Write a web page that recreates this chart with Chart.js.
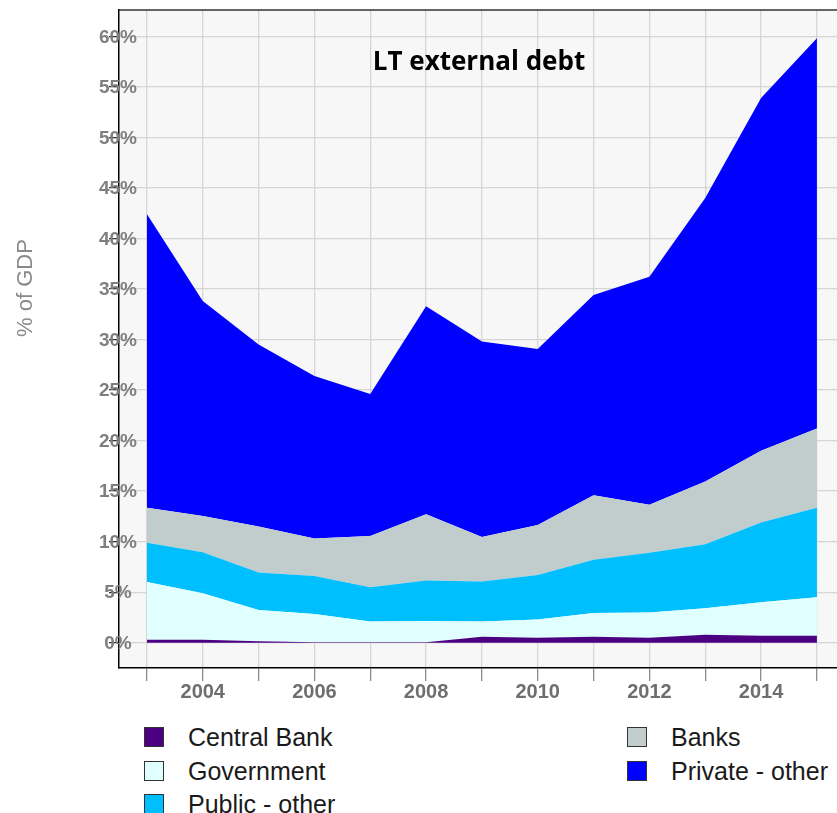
<!DOCTYPE html>
<html>
<head>
<meta charset="utf-8">
<script src="https://cdn.jsdelivr.net/npm/chart.js@4.4.1/dist/chart.umd.min.js"></script>
<style>
  body { margin: 0; background: #fff; width: 837px; height: 813px; position: relative; overflow: hidden; }
  #wrap { position: absolute; left: 0; top: 0; width: 837px; height: 715px; }
  .legend { position: absolute; font-family: "Liberation Sans", Arial, sans-serif; font-size: 25px; color: #1a1a1a; }
  .item { position: absolute; white-space: nowrap; height: 30px; line-height: 30px; }
  .box { position: absolute; left: 0; top: 5px; width: 18px; height: 18px; border: 1px solid #333; }
  .lbl { position: absolute; left: 44px; top: 0; }
</style>
</head>
<body>
<div id="wrap"><canvas id="chart" width="837" height="715"></canvas></div>
<div id="legend"></div>
<script>
const years = [2003, 2004, 2005, 2006, 2007, 2008, 2009, 2010, 2011, 2012, 2013, 2014, 2015];
const centralBank = [0.3, 0.3, 0.15, 0.05, 0.05, 0.05, 0.6, 0.5, 0.6, 0.5, 0.8, 0.7, 0.7];
const government = [5.7, 4.6, 3.1, 2.8, 2.05, 2.1, 1.5, 1.8, 2.35, 2.5, 2.6, 3.3, 3.8];
const publicOther = [3.9, 4.05, 3.7, 3.75, 3.4, 4.0, 3.95, 4.4, 5.25, 5.9, 6.35, 7.9, 8.85];
const banks = [3.45, 3.6, 4.55, 3.7, 5.05, 6.55, 4.4, 4.95, 6.4, 4.75, 6.2, 7.1, 7.85];
const privateOther = [29.05, 21.25, 18.0, 16.1, 14.05, 20.6, 19.35, 17.4, 19.8, 22.55, 28.05, 34.9, 38.6];
const yTicks = [0, 5, 10, 15, 20, 25, 30, 35, 40, 45, 50, 55, 60];

const series = [
  { label: "Central Bank", values: centralBank, color: "#4B0082" },
  { label: "Government", values: government, color: "#E0FFFF" },
  { label: "Public - other", values: publicOther, color: "#00BFFF" },
  { label: "Banks", values: banks, color: "#C1CDCD" },
  { label: "Private - other", values: privateOther, color: "#0000FF" },
];

const gridColor = "rgba(208,208,208,0.85)";

// panel background, top border, y tick labels (centred on the axis line) and titles
const decor = {
  id: "decor",
  beforeDraw(chart) {
    const { ctx, chartArea: a } = chart;
    ctx.save();
    ctx.fillStyle = "#f7f7f7";
    ctx.fillRect(a.left, a.top, a.right - a.left, a.bottom - a.top);
    ctx.restore();
  },
  afterDraw(chart) {
    const { ctx, chartArea: a } = chart;
    const y = chart.scales.y;
    ctx.save();
    ctx.strokeStyle = "#333";
    ctx.lineWidth = 1.3;
    ctx.beginPath();
    ctx.moveTo(a.left, a.top);
    ctx.lineTo(a.right, a.top);
    ctx.stroke();

    ctx.fillStyle = "#7f7f7f";
    ctx.font = "bold 19px 'Liberation Sans', Arial, sans-serif";
    ctx.textAlign = "center";
    ctx.textBaseline = "middle";
    yTicks.forEach((v) => ctx.fillText(v + "%", 118, y.getPixelForValue(v) + 1));

    ctx.fillStyle = "#000";
    ctx.font = "bold 26px 'Open Sans', sans-serif";
    ctx.textBaseline = "alphabetic";
    ctx.fillText("LT external debt", 479, 70);

    ctx.translate(26, 288);
    ctx.rotate(-Math.PI / 2);
    ctx.fillStyle = "#8a8a8a";
    ctx.font = "22px 'Liberation Sans', Arial, sans-serif";
    ctx.textBaseline = "middle";
    ctx.fillText("% of GDP", 0, 0);
    ctx.restore();
  },
};

new Chart(document.getElementById("chart"), {
  type: "line",
  data: {
    datasets: series.map((s, i) => ({
      label: s.label,
      data: years.map((yr, j) => ({ x: yr, y: s.values[j] })),
      backgroundColor: s.color,
      borderColor: s.color,
      borderWidth: 0,
      pointRadius: 0,
      tension: 0,
      fill: i === 0 ? "origin" : "-1",
    })),
  },
  options: {
    responsive: false,
    animation: false,
    layout: { padding: { top: 10, left: 0, right: 0, bottom: 0 } },
    plugins: { legend: { display: false }, tooltip: { enabled: false } },
    scales: {
      x: {
        type: "linear",
        min: 2002.5,
        max: 2015.36,
        z: 1,
        afterBuildTicks: (scale) => { scale.ticks = years.map((v) => ({ value: v })); },
        afterFit: (scale) => { scale.height = 47; },
        ticks: {
          callback: (v) => (v % 2 === 0 ? String(v) : ""),
          color: "#6e6e6e",
          font: { family: "'Liberation Sans', Arial, sans-serif", size: 20, weight: "bold" },
          padding: -1,
          maxRotation: 0,
          autoSkip: false,
        },
        grid: { color: gridColor, lineWidth: 1.3, tickColor: "#8c8c8c", tickLength: 13 },
        border: { color: "#000", width: 1.5 },
      },
      y: {
        stacked: true,
        min: -2.5,
        max: 62.6,
        z: 1,
        afterBuildTicks: (scale) => { scale.ticks = yTicks.map((v) => ({ value: v })); },
        afterFit: (scale) => { scale.width = 119; },
        ticks: { display: false },
        grid: { color: gridColor, lineWidth: 1.3, tickColor: "#333", tickLength: 10 },
        border: { color: "#000", width: 1.5 },
      },
    },
  },
  plugins: [decor],
});

// legend in two columns, filled top to bottom
const legend = document.getElementById("legend");
const cols = [{ x: 144, items: series.slice(0, 3) }, { x: 627, items: series.slice(3) }];
cols.forEach((col) => {
  col.items.forEach((s, r) => {
    const item = document.createElement("div");
    item.className = "legend item";
    item.style.left = col.x + "px";
    item.style.top = 722 + r * 33.5 + "px";
    item.innerHTML = '<span class="box" style="background:' + s.color + '"></span><span class="lbl">' + s.label + "</span>";
    legend.appendChild(item);
  });
});
</script>
</body>
</html>
